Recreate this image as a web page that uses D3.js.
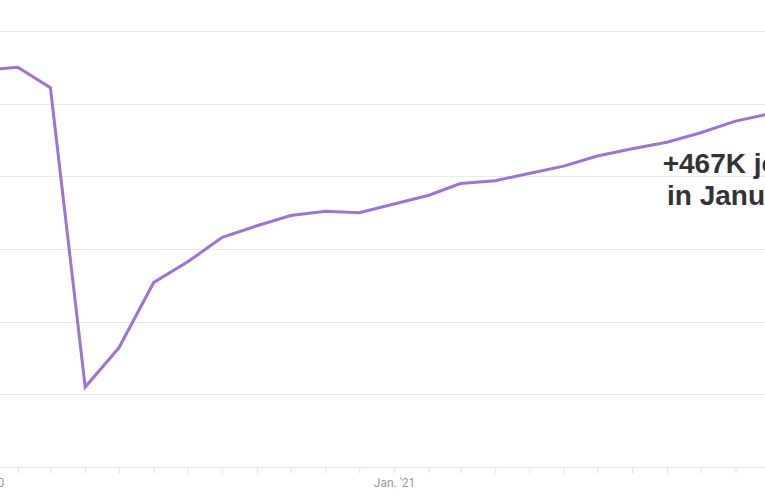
<!DOCTYPE html>
<html>
<head>
<meta charset="utf-8">
<script src="https://cdn.jsdelivr.net/npm/d3@7"></script>
<style>
  body { margin: 0; background: #fff; }
  svg { display: block; }
</style>
</head>
<body>
<div id="chart"></div>
<script>
// total nonfarm jobs, millions, monthly
var months = ["2020-01","2020-02","2020-03","2020-04","2020-05","2020-06","2020-07","2020-08",
  "2020-09","2020-10","2020-11","2020-12","2021-01","2021-02","2021-03","2021-04","2021-05",
  "2021-06","2021-07","2021-08","2021-09","2021-10","2021-11","2021-12","2022-01"];
var jobs = [152.3, 152.5, 151.1, 130.5, 133.2, 137.7, 139.1, 140.8,
  141.6, 142.3, 142.6, 142.5, 143.1, 143.7, 144.5, 144.7, 145.2,
  145.7, 146.4, 146.9, 147.35, 148.0, 148.8, 149.3, 149.8];
var gridValues = [130, 135, 140, 145, 150, 155];
var labelYears = ["2020-01", "2021-01"];
var annotation = ["+467K jobs", "in January"];

var width = 765, height = 500;
var parse = d3.timeParse("%Y-%m");
var data = months.map(function(m, i) { return {date: parse(m), value: jobs[i]}; });

var x = d3.scaleTime()
    .domain([parse("2020-01"), parse("2022-01")])
    .range([-17, 804]);
var y = d3.scaleLinear()
    .domain([125, 155])
    .range([467, 31]);

var svg = d3.select("#chart").append("svg")
    .attr("width", width)
    .attr("height", height);

// gridlines
svg.append("g")
  .selectAll("line")
  .data(gridValues)
  .enter().append("line")
  .attr("x1", 0).attr("x2", width)
  .attr("y1", function(d) { return Math.round(y(d)) + 0.5; })
  .attr("y2", function(d) { return Math.round(y(d)) + 0.5; })
  .attr("stroke", "#e9e9e9")
  .attr("stroke-width", 1);

// x axis
var xAxis = svg.append("g")
  .attr("transform", "translate(0," + (Math.round(y(125)) + 0.5) + ")")
  .call(d3.axisBottom(x)
    .ticks(d3.timeMonth.every(1))
    .tickSize(6)
    .tickFormat(function(d) {
      var key = d3.timeFormat("%Y-%m")(d);
      return labelYears.indexOf(key) >= 0 ? d3.timeFormat("%b. '%y")(d) : "";
    }));
xAxis.select(".domain").attr("stroke", "#e3e3e3").attr("d", "M0,0H" + width);
xAxis.selectAll(".tick line").attr("stroke", "#e3e3e3");
xAxis.selectAll(".tick text")
  .attr("fill", "#9a9a9a")
  .attr("dy", "0.95em")
  .attr("y", 8)
  .style("font-family", "Roboto, 'Liberation Sans', sans-serif")
  .style("font-size", "12px");

// line
var line = d3.line()
  .x(function(d) { return x(d.date); })
  .y(function(d) { return y(d.value); });

svg.append("path")
  .datum(data)
  .attr("fill", "none")
  .attr("stroke", "#9d74d1")
  .attr("stroke-width", 3)
  .attr("stroke-linejoin", "miter")
  .attr("d", line);

// annotation
svg.append("g")
  .selectAll("text")
  .data(annotation)
  .enter().append("text")
  .attr("x", 737)
  .attr("y", function(d, i) { return 173 + i * 32; })
  .attr("text-anchor", "middle")
  .attr("fill", "#333")
  .style("font-family", "'Liberation Sans', Arial, sans-serif")
  .style("font-weight", "bold")
  .style("font-size", "28px")
  .text(function(d) { return d; });
</script>
</body>
</html>
